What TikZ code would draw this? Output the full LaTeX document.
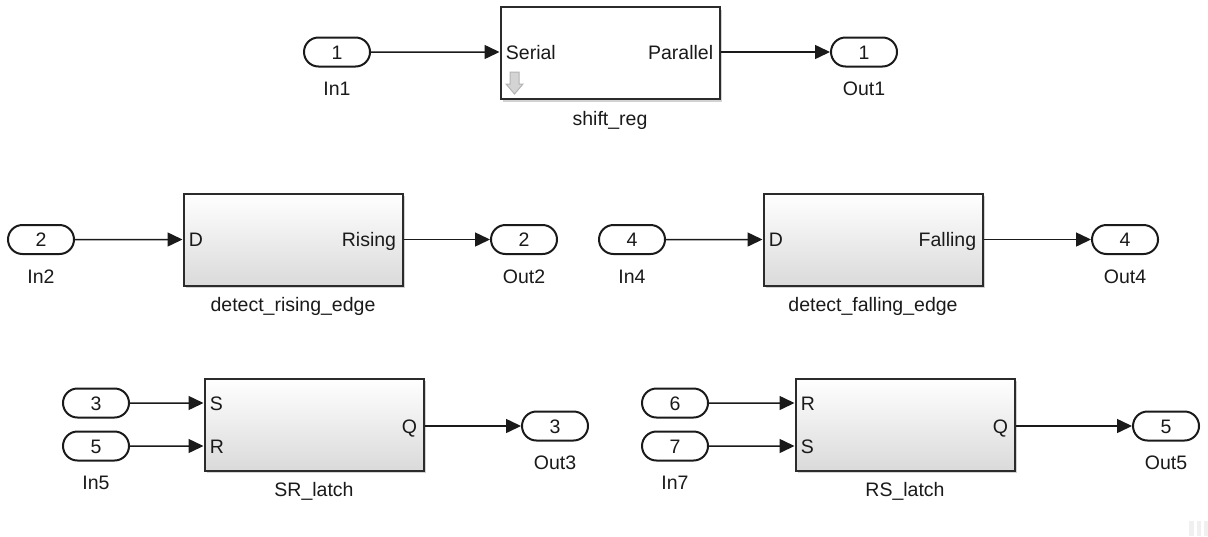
\documentclass[tikz,border=0pt]{standalone}
\usepackage{fontspec}
\setmainfont{Liberation Sans}
\usepackage{xcolor}
\usepackage{tikz}
\usetikzlibrary{
    positioning,
    arrows.meta,
    shapes.misc,
    shadows,
}
\definecolor{inkblack}{HTML}{1A1A1A}
\definecolor{blkborder}{HTML}{2B2B2B}
\definecolor{blkbottom}{HTML}{DADADA}
\definecolor{trigfill}{HTML}{D4D4D4}
\definecolor{trigdraw}{HTML}{B4B4B4}
\tikzset{
    % Port styles
    port/.style={rounded rectangle, draw=inkblack, line width=1pt, fill=white,
                 minimum width=33pt, minimum height=14.5pt, inner sep=0pt,
                 text height=7pt, text depth=0pt, font=\slfont},
    portname/.style={inner sep=0pt, text height=7pt, text depth=0pt, font=\slfont},
    % Block styles
    block/.style={rectangle, draw=blkborder, line width=1pt, minimum width=109.5pt,
                  minimum height=46pt, inner sep=0pt,
                  drop shadow={shadow xshift=1.4pt, shadow yshift=-1.4pt, opacity=0.35}},
    shaded block/.style={block, top color=white, bottom color=blkbottom},
    plain block/.style={block, fill=white},
    pinlbl/.style={inner sep=0pt, text height=7pt, text depth=0pt, font=\slfont},
    blkname/.style={inner sep=0pt, text height=7pt, text depth=0pt, font=\slfont},
    % Arrow styles
    wire/.style={-{Triangle[length=7.5pt, width=7pt]}, line width=0.75pt, draw=inkblack},
}
\newcommand{\slfont}{\fontsize{9.75pt}{11pt}\selectfont\color{inkblack}}

\begin{document}
\begin{tikzpicture}[x=0.5pt, y=-0.5pt]
    \fill[white] (0,0) rectangle (1208,536);
    \useasboundingbox (0,0) rectangle (1208,536);

    % Blocks
    \node[plain block]  (shift) at (610, 53)    {};
    \node[shaded block] (rise)  at (293, 239.5) {};
    \node[shaded block] (fall)  at (873, 239.5) {};
    \node[shaded block] (srl)   at (314, 424.5) {};
    \node[shaded block] (rsl)   at (905, 424.5) {};

    \node[blkname, below=5.5pt of shift] (shift name) {shift\_reg};
    \node[blkname, below=5.5pt of rise]  (rise name)  {detect\_rising\_edge};
    \node[blkname, below=5.5pt of fall]  (fall name)  {detect\_falling\_edge};
    \node[blkname, below=5.5pt of srl]   (srl name)   {SR\_latch};
    \node[blkname, below=5.5pt of rsl]   (rsl name)   {RS\_latch};

    % Trigger mark
    \filldraw[fill=trigfill, draw=trigdraw, line width=0.5pt]
        (510,72) -- (519,72) -- (519,84) -- (523,84) -- (514.5,94) -- (506,84) -- (510,84) -- cycle;

    % Inports
    \foreach \p/\x/\y/\t in {in1/337/52/1, in2/41/239.5/2, in4/632/239.5/4,
                             in3/96/403/3, in5/96/446/5, in6/675/403/6, in7/675/446/7} {
        \node[port] (\p) at (\x,\y) {\t};
    }
    \foreach \p/\t in {in1/In1, in2/In2, in4/In4, in5/In5, in7/In7} {
        \node[portname, below=7pt of \p] (\p name) {\t};
    }

    % Outports
    \foreach \p/\x/\y/\t in {out1/864/52/1, out2/524/239.5/2, out4/1125/239.5/4,
                             out3/555/426/3, out5/1166/426/5} {
        \node[port] (\p) at (\x,\y) {\t};
        \node[portname, below=7pt of \p] (\p name) {Out\t};
    }

    % Block pins
    \coordinate (shift in)  at (shift.west |- in1);
    \coordinate (shift out) at (shift.east |- out1);
    \coordinate (rise in)   at (rise.west |- in2);
    \coordinate (rise out)  at (rise.east |- out2);
    \coordinate (fall in)   at (fall.west |- in4);
    \coordinate (fall out)  at (fall.east |- out4);
    \coordinate (srl s)     at (srl.west |- in3);
    \coordinate (srl r)     at (srl.west |- in5);
    \coordinate (srl q)     at (srl.east |- out3);
    \coordinate (rsl r)     at (rsl.west |- in6);
    \coordinate (rsl s)     at (rsl.west |- in7);
    \coordinate (rsl q)     at (rsl.east |- out5);

    \node[pinlbl, right=3pt of shift in]  (serial)   {Serial};
    \node[pinlbl, left=3.5pt of shift out] (parallel) {Parallel};
    \node[pinlbl, right=3pt of rise in]   (rise d)   {D};
    \node[pinlbl, left=3.5pt of rise out]  (rising)   {Rising};
    \node[pinlbl, right=3pt of fall in]   (fall d)   {D};
    \node[pinlbl, left=3.5pt of fall out]  (falling)  {Falling};
    \node[pinlbl, right=3pt of srl s]     (srl s lbl) {S};
    \node[pinlbl, right=3pt of srl r]     (srl r lbl) {R};
    \node[pinlbl, left=3.5pt of srl q]     (srl q lbl) {Q};
    \node[pinlbl, right=3pt of rsl r]     (rsl r lbl) {R};
    \node[pinlbl, right=3pt of rsl s]     (rsl s lbl) {S};
    \node[pinlbl, left=3.5pt of rsl q]     (rsl q lbl) {Q};

    % Signals
    \draw[wire] (in1) -- (shift in);
    \draw[wire] (shift out) -- (out1);
    \draw[wire] (in2) -- (rise in);
    \draw[wire] (rise out) -- (out2);
    \draw[wire] (in4) -- (fall in);
    \draw[wire] (fall out) -- (out4);
    \draw[wire] (in3) -- (srl s);
    \draw[wire] (in5) -- (srl r);
    \draw[wire] (srl q) -- (out3);
    \draw[wire] (in6) -- (rsl r);
    \draw[wire] (in7) -- (rsl s);
    \draw[wire] (rsl q) -- (out5);

    % Corner grip
    \fill[gray!12] (1189,521) rectangle (1194,536);
    \fill[gray!12] (1197,521) rectangle (1201,536);
    \fill[gray!12] (1204,521) rectangle (1208,536);
\end{tikzpicture}
\end{document}
